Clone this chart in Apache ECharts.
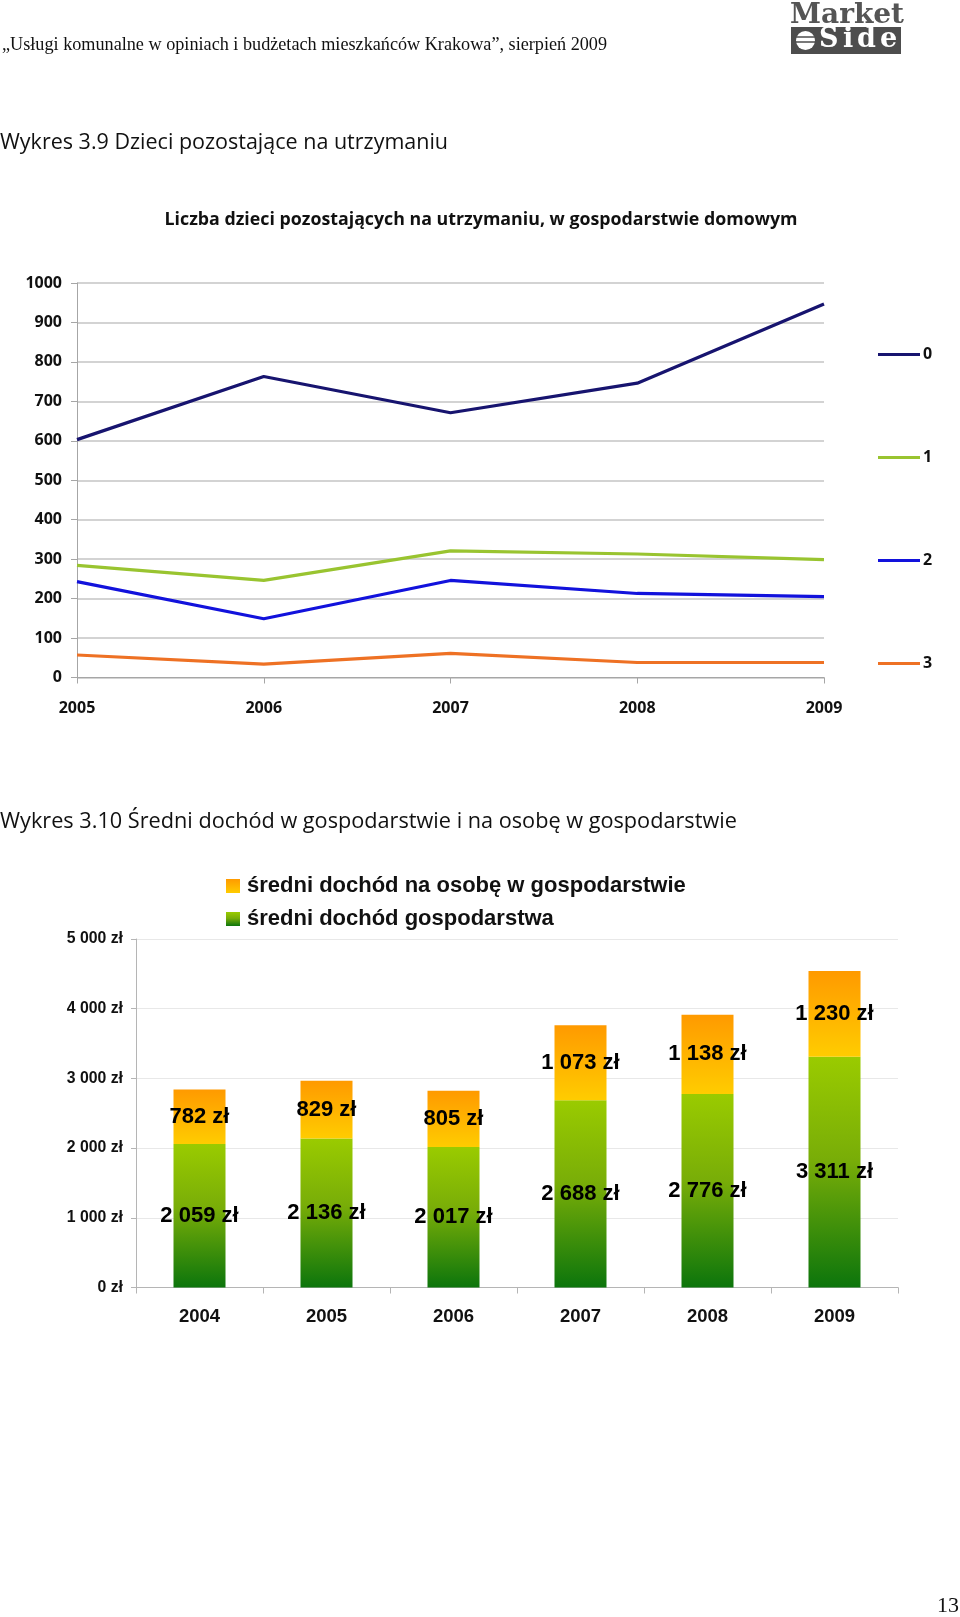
<!DOCTYPE html>
<html><head><meta charset="utf-8">
<script src="https://cdn.jsdelivr.net/npm/echarts@6/dist/echarts.min.js"></script>
<style>html,body{margin:0;padding:0;background:#fff}#c{width:960px;height:1617px}</style>
</head><body><div id="c"></div>
<script>
// ---- Data: chart 3.9 ----
const lineYears = ['2005', '2006', '2007', '2008', '2009'];
const lineNames = ['0', '1', '2', '3'];
const kids0 = [603, 763, 671, 746, 947];
const kids1 = [284, 246, 321, 313, 299];
const kids2 = [243, 149, 246, 213, 205];
const kids3 = [57, 34, 61, 38, 38];
const lineColors = ['#17146f', '#99c430', '#1212dc', '#ee7124'];

// ---- Data: chart 3.10 ----
const barYears = ['2004', '2005', '2006', '2007', '2008', '2009'];
const householdIncome = [2059, 2136, 2017, 2688, 2776, 3311];
const perPersonIncome = [782, 829, 805, 1073, 1138, 1230];
const barNames = ['średni dochód gospodarstwa', 'średni dochód na osobę w gospodarstwie'];

const zl = v => String(v).replace(/\B(?=(\d{3})+(?!\d))/g, ' ') + ' zł';

const chart = echarts.init(document.getElementById('c'), null, { renderer: 'canvas' });
const LG = echarts.graphic.LinearGradient;
const greenGrad = new LG(0, 0, 0, 1, [{ offset: 0, color: '#9acb00' }, { offset: 0.45, color: '#78ad08' }, { offset: 1, color: '#0c750c' }]);
const orangeGrad = new LG(0, 0, 0, 1, [{ offset: 0, color: '#ff9a00' }, { offset: 1, color: '#ffcc00' }]);

const kidsData = [kids0, kids1, kids2, kids3];
const legendCenters = [354.5, 457.5, 560.5, 663.5];

const F1 = '"Open Sans", sans-serif';
const F2 = '"Liberation Sans", Arial, sans-serif';

const option = {
  backgroundColor: '#ffffff',
  animation: false,
  grid: [
    { left: 77, top: 283, width: 747, height: 394.5 },
    { left: 136, top: 939, width: 762, height: 348.5 }
  ],
  xAxis: [
    {
      gridIndex: 0, type: 'category', data: lineYears, boundaryGap: false,
      axisLine: { lineStyle: { color: '#a6a6a6', width: 1 } },
      axisTick: { show: true, length: 6, lineStyle: { color: '#a6a6a6' } },
      axisLabel: { margin: 23, color: '#111', fontFamily: F1, fontWeight: 'bold', fontSize: 16 }
    },
    {
      gridIndex: 1, type: 'category', data: barYears, boundaryGap: true,
      axisLine: { lineStyle: { color: '#b5b5b5', width: 1 } },
      axisTick: { show: true, length: 6, lineStyle: { color: '#b5b5b5' } },
      axisLabel: { margin: 20, color: '#111', fontFamily: F2, fontWeight: 'bold', fontSize: 18.5 }
    }
  ],
  yAxis: [
    {
      gridIndex: 0, type: 'value', min: 0, max: 1000, interval: 100,
      axisLine: { show: true, lineStyle: { color: '#a6a6a6', width: 1 } },
      axisTick: { show: true, length: 6, lineStyle: { color: '#a6a6a6' } },
      splitLine: { lineStyle: { color: '#c4c4c4', width: 1.5 } },
      axisLabel: { margin: 15, color: '#111', fontFamily: F1, fontWeight: 'bold', fontSize: 16, formatter: v => String(v) }
    },
    {
      gridIndex: 1, type: 'value', min: 0, max: 5000, interval: 1000,
      axisLine: { show: true, lineStyle: { color: '#b5b5b5', width: 1 } },
      axisTick: { show: true, length: 5, lineStyle: { color: '#b5b5b5' } },
      splitLine: { lineStyle: { color: '#e8e8e8', width: 1 } },
      axisLabel: { margin: 13, color: '#111', fontFamily: F2, fontWeight: 'bold', fontSize: 15.8, formatter: zl }
    }
  ],
  legend: lineNames.map((n, i) => ({
    data: [n], orient: 'vertical', left: 878, top: legendCenters[i] - 8, padding: 0,
    icon: 'rect', itemWidth: 42, itemHeight: 3.2, itemGap: 0, selectedMode: false,
    textStyle: { fontFamily: F1, fontWeight: 'bold', fontSize: 16, color: '#111', padding: [0, 0, 0, -2] }
  })).concat([
    {
      data: [barNames[1]], left: 226, top: 875, padding: 0, itemWidth: 14, itemHeight: 14, itemGap: 0,
      icon: 'rect', selectedMode: false,
      textStyle: { fontFamily: F2, fontWeight: 'bold', fontSize: 22, color: '#111', padding: [0, 0, 0, 2] }
    },
    {
      data: [barNames[0]], left: 226, top: 908, padding: 0, itemWidth: 14, itemHeight: 14, itemGap: 0,
      icon: 'rect', selectedMode: false,
      textStyle: { fontFamily: F2, fontWeight: 'bold', fontSize: 22, color: '#111', padding: [0, 0, 0, 2] }
    }
  ]),
  series: lineNames.map((n, i) => ({
    name: n, type: 'line', xAxisIndex: 0, yAxisIndex: 0, data: kidsData[i],
    symbol: 'none', color: lineColors[i],
    lineStyle: { color: lineColors[i], width: 3.2 }
  })).concat([
    {
      name: barNames[0], type: 'bar', stack: 'inc', xAxisIndex: 1, yAxisIndex: 1,
      data: householdIncome, barWidth: 52,
      itemStyle: { color: greenGrad },
      label: { show: true, position: 'inside', formatter: p => zl(p.value), color: '#000', fontFamily: F2, fontWeight: 'bold', fontSize: 22 }
    },
    {
      name: barNames[1], type: 'bar', stack: 'inc', xAxisIndex: 1, yAxisIndex: 1,
      data: perPersonIncome, barWidth: 52,
      itemStyle: { color: orangeGrad },
      label: { show: true, position: 'inside', formatter: p => zl(p.value), color: '#000', fontFamily: F2, fontWeight: 'bold', fontSize: 22 }
    }
  ]),
  graphic: [
    { type: 'text', x: 2, y: 45, style: { text: '„Usługi komunalne w opiniach i budżetach mieszkańców Krakowa”, sierpień 2009', font: '18.2px "Liberation Serif", "Times New Roman", serif', fill: '#111', textVerticalAlign: 'middle' } },
    // logo
    { type: 'text', x: 790, y: 2, style: { text: 'Market', font: 'bold 28px "DejaVu Serif", serif', fill: '#555555' } },
    { type: 'rect', shape: { x: 791, y: 27, width: 110, height: 27 }, style: { fill: '#4d4d4d' } },
    { type: 'circle', shape: { cx: 805.5, cy: 40.5, r: 9.5 }, style: { fill: '#ffffff' } },
    { type: 'line', shape: { x1: 795, y1: 37, x2: 816, y2: 37 }, style: { stroke: '#4d4d4d', lineWidth: 1.5 } },
    { type: 'line', shape: { x1: 795, y1: 42, x2: 816, y2: 42 }, style: { stroke: '#4d4d4d', lineWidth: 1.5 } },
    { type: 'text', x: 819, y: 26, style: { text: 'S', font: 'bold 27px "DejaVu Serif", serif', fill: '#ffffff' } },
    { type: 'text', x: 843, y: 26, style: { text: 'i', font: 'bold 27px "DejaVu Serif", serif', fill: '#ffffff' } },
    { type: 'text', x: 857, y: 26, style: { text: 'd', font: 'bold 27px "DejaVu Serif", serif', fill: '#ffffff' } },
    { type: 'text', x: 880, y: 26, style: { text: 'e', font: 'bold 27px "DejaVu Serif", serif', fill: '#ffffff' } },
    // section titles
    { type: 'text', x: 0, y: 143, style: { text: 'Wykres 3.9 Dzieci pozostające na utrzymaniu', font: '21.5px "Open Sans", sans-serif', fill: '#111', textVerticalAlign: 'middle' } },
    { type: 'text', x: 481, y: 220, style: { text: 'Liczba dzieci pozostających na utrzymaniu, w gospodarstwie domowym', font: 'bold 17.8px "Open Sans", sans-serif', fill: '#111', textAlign: 'center', textVerticalAlign: 'middle' } },
    { type: 'text', x: 0, y: 822, style: { text: 'Wykres 3.10 Średni dochód w gospodarstwie i na osobę w gospodarstwie', font: '21.7px "Open Sans", sans-serif', fill: '#111', textVerticalAlign: 'middle' } },
    { type: 'text', x: 959, y: 1606, style: { text: '13', font: '22px "Liberation Serif", serif', fill: '#111', textAlign: 'right', textVerticalAlign: 'middle' } }
  ]
};
chart.setOption(option);
</script>
</body></html>
